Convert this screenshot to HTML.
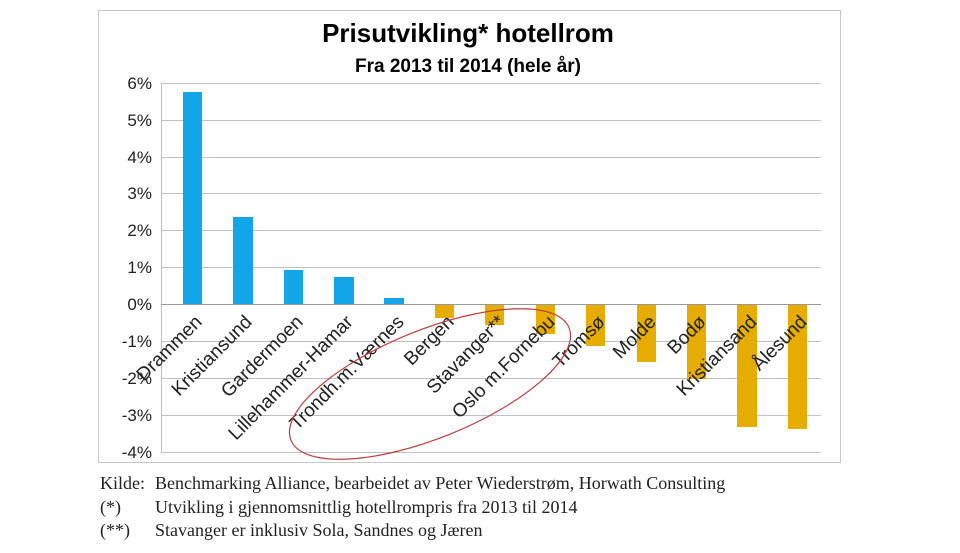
<!DOCTYPE html>
<html><head><meta charset="utf-8"><style>
body{margin:0;background:#fff;width:960px;height:548px;overflow:hidden}
</style></head><body>
<svg width="960" height="548" xmlns="http://www.w3.org/2000/svg" font-family="Liberation Sans, sans-serif">
<rect x="98.5" y="10.5" width="742" height="452" fill="#fff" stroke="#c8c8c8"/>
<text x="468" y="42" text-anchor="middle" font-size="26" font-weight="bold">Prisutvikling* hotellrom</text>
<text x="468" y="72" text-anchor="middle" font-size="19" font-weight="bold">Fra 2013 til 2014 (hele år)</text>
<g stroke="#c0c0c0" stroke-width="1">
<line x1="161" x2="821" y1="83.5" y2="83.5"/><line x1="161" x2="821" y1="120.5" y2="120.5"/>
<line x1="161" x2="821" y1="157.5" y2="157.5"/><line x1="161" x2="821" y1="193.5" y2="193.5"/>
<line x1="161" x2="821" y1="230.5" y2="230.5"/><line x1="161" x2="821" y1="267.5" y2="267.5"/>
<line x1="161" x2="821" y1="341.5" y2="341.5"/><line x1="161" x2="821" y1="378.5" y2="378.5"/>
<line x1="161" x2="821" y1="415.5" y2="415.5"/><line x1="161" x2="821" y1="452.5" y2="452.5"/>
<line x1="161.5" x2="161.5" y1="83" y2="452"/>
</g>
<line x1="161" x2="821" y1="304.5" y2="304.5" stroke="#999"/>
<g font-size="17" fill="#222" text-anchor="end">
<text x="152" y="89">6%</text><text x="152" y="126">5%</text><text x="152" y="163">4%</text>
<text x="152" y="199">3%</text><text x="152" y="236">2%</text><text x="152" y="273">1%</text>
<text x="152" y="310">0%</text><text x="152" y="347">-1%</text><text x="152" y="384">-2%</text>
<text x="152" y="421">-3%</text><text x="152" y="458">-4%</text>
</g>
<g fill="#12a5e8">
<rect x="183" y="92" width="19" height="212"/>
<rect x="233" y="217" width="20" height="87"/>
<rect x="284" y="270" width="19" height="34"/>
<rect x="334" y="277" width="20" height="27"/>
<rect x="384" y="298" width="20" height="6"/>
</g>
<g fill="#e6ac00">
<rect x="435" y="305" width="19" height="13"/>
<rect x="485" y="305" width="19" height="20"/>
<rect x="536" y="305" width="19" height="29"/>
<rect x="586" y="305" width="19" height="41"/>
<rect x="637" y="305" width="19" height="57"/>
<rect x="687" y="305" width="19" height="74"/>
<rect x="737" y="305" width="20" height="122"/>
<rect x="788" y="305" width="19" height="124"/>
</g>
<g font-size="19" fill="#222" text-anchor="end">
<text transform="translate(203,323) rotate(-45)">Drammen</text>
<text transform="translate(253,323) rotate(-45)">Kristiansund</text>
<text transform="translate(304,323) rotate(-45)">Gardermoen</text>
<text transform="translate(354,323) rotate(-45)">Lillehammer-Hamar</text>
<text transform="translate(405,323) rotate(-45)">Trondh.m.Værnes</text>
<text transform="translate(455,323) rotate(-45)">Bergen</text>
<text transform="translate(506,323) rotate(-45)">Stavanger**</text>
<text transform="translate(556,323) rotate(-45)">Oslo m.Fornebu</text>
<text transform="translate(606,323) rotate(-45)">Tromsø</text>
<text transform="translate(657,323) rotate(-45)">Molde</text>
<text transform="translate(707,323) rotate(-45)">Bodø</text>
<text transform="translate(758,323) rotate(-45)">Kristiansand</text>
<text transform="translate(808,323) rotate(-45)">Ålesund</text>
</g>
<ellipse cx="430" cy="384" rx="150" ry="54" transform="rotate(-22 430 384)" fill="none" stroke="#c04040" stroke-width="1.2"/>
<g font-family="Liberation Serif, serif" font-size="18" fill="#222">
<text x="100" y="489">Kilde:</text><text x="155" y="489">Benchmarking Alliance, bearbeidet av Peter Wiederstrøm, Horwath Consulting</text>
<text x="100" y="513">(*)</text><text x="155" y="513">Utvikling i gjennomsnittlig hotellrompris fra 2013 til 2014</text>
<text x="100" y="536">(**)</text><text x="155" y="536">Stavanger er inklusiv Sola, Sandnes og Jæren</text>
</g>
</svg>
</body></html>
